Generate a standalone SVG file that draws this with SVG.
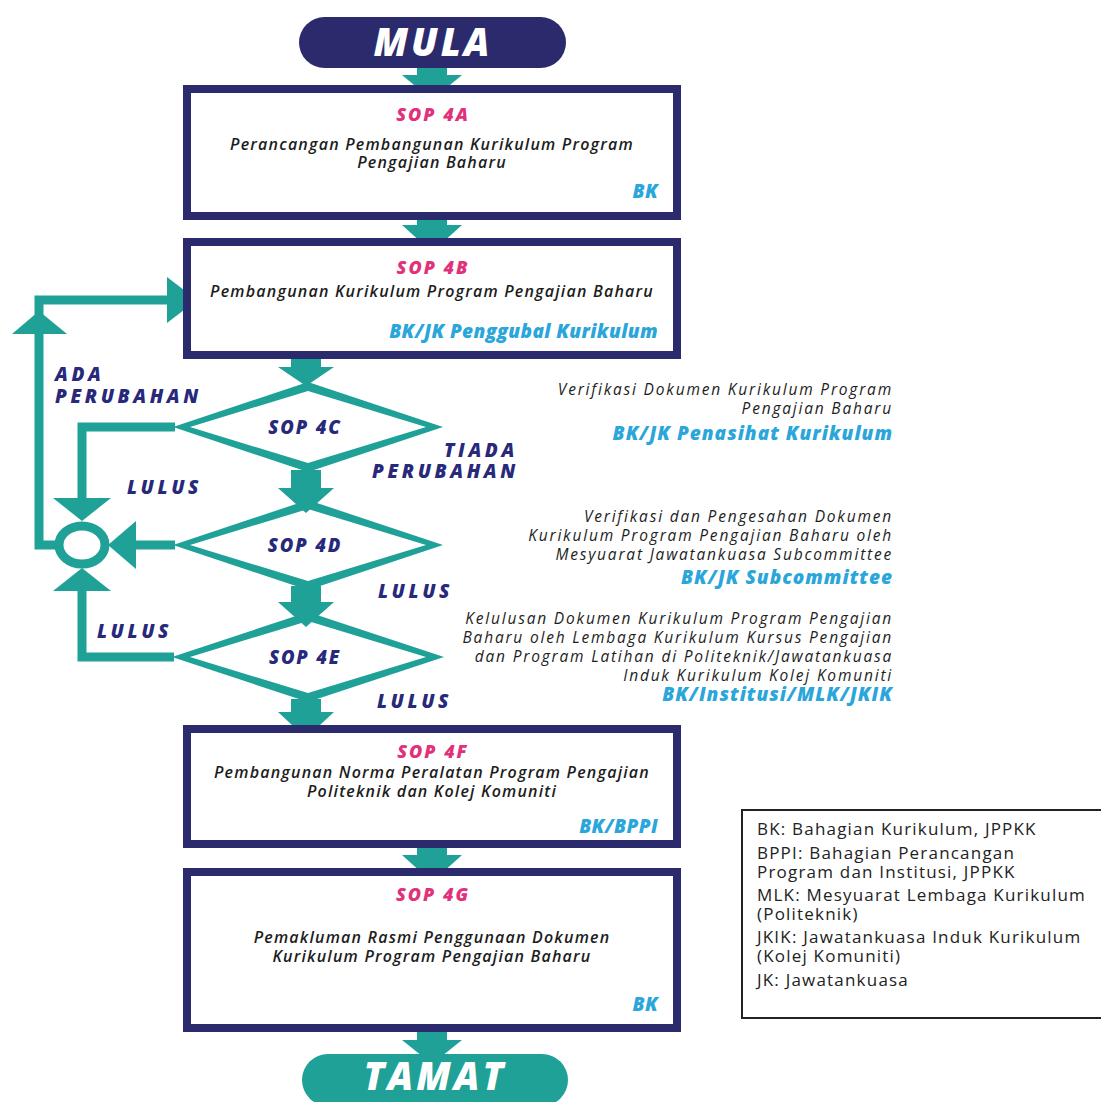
<svg xmlns="http://www.w3.org/2000/svg" width="1101" height="1102" viewBox="0 0 1101 1102">
<style>
.box{fill:#fff;stroke:#2b2a6c;stroke-width:8}
.teal{fill:#1fa197}
.line{fill:none;stroke:#1fa197;stroke-width:9;stroke-linejoin:miter}
.ctr{font-family:"Open Sans","DejaVu Sans",sans-serif;font-style:italic;text-anchor:middle}
.sop{font-weight:800;font-size:18px;fill:#e0317a;letter-spacing:2px}
.desc{font-weight:600;font-size:16px;fill:#1d1d1d;letter-spacing:1.2px}
.who{font-family:"Open Sans","DejaVu Sans",sans-serif;font-style:italic;font-weight:800;font-size:19px;fill:#2aa6da;text-anchor:end;letter-spacing:0.4px}
.sidet{font-family:"Open Sans","DejaVu Sans",sans-serif;font-style:italic;text-anchor:end}
.side{font-weight:400;font-size:15.5px;fill:#1d1d1d;letter-spacing:1.8px}
.whos{font-weight:800;font-size:19px;fill:#2aa6da;letter-spacing:1px}
.lbl{font-family:"Open Sans","DejaVu Sans",sans-serif;font-style:italic;font-weight:800;font-size:19px;fill:#28297a;letter-spacing:3.6px}
.dlbl{font-family:"Open Sans","DejaVu Sans",sans-serif;font-style:italic;font-weight:800;font-size:18.5px;fill:#28297a;text-anchor:middle;letter-spacing:1.8px}
.term{font-family:"Open Sans","DejaVu Sans",sans-serif;font-style:italic;font-weight:800;font-size:38px;fill:#fff;text-anchor:middle;letter-spacing:3px}
.leg{font-family:"Open Sans","DejaVu Sans",sans-serif;font-size:17px;fill:#222;letter-spacing:1.2px}
</style>
<rect width="1101" height="1102" fill="#fff"/>

<g id="connectors">
<path class="teal" d="M417,64 H447 V75 H462 L432,100 L402,75 H417 Z"/>
<path class="teal" d="M417,216 H447 V225 H462 L432,252 L402,225 H417 Z"/>
<path class="teal" d="M291,356 H321 V367 H334 L306,386 L278,367 H291 Z"/>
<path class="teal" d="M291,470 H321 V488 H334 L306,513 L278,488 H291 Z"/>
<path class="teal" d="M291,586 H321 V602 H334 L306,627 L278,602 H291 Z"/>
<path class="teal" d="M291,699 H321 V712 H334 L306,738 L278,712 H291 Z"/>
<path class="teal" d="M417,845 H447 V855 H462 L432,882 L402,855 H417 Z"/>
<path class="teal" d="M417,1029 H447 V1040 H462 L432,1064 L402,1040 H417 Z"/>
<polyline class="line" points="175,427 82,427 82,500"/>
<polyline class="line" points="175,545 133,545"/>
<polyline class="line" points="174,657 82,657 82,589"/>
<polyline class="line" points="60,545 39,545 39,300 170,300"/>
<polygon class="teal" points="53,498 111,498 82,521"/>
<polygon class="teal" points="136,521 136,569 108,545"/>
<polygon class="teal" points="53,591 111,591 82,568"/>
<polygon class="teal" points="12,334 67,334 39,311"/>
<polygon class="teal" points="167,277 167,323 197,300"/>
<ellipse cx="82" cy="545" rx="23" ry="19" fill="#fff" stroke="#1fa197" stroke-width="9"/>
</g>

<g id="mula">
<rect x="299" y="17" width="267" height="51" rx="25.5" fill="#2b2a6c"/>
<text class="term" x="433" y="56">MULA</text>
</g>

<g id="sop4a">
<rect class="box" x="187" y="89" width="490" height="127"/>
<text class="ctr"><tspan class="sop" x="433" y="121">SOP 4A</tspan><tspan class="desc" x="432" y="150">Perancangan Pembangunan Kurikulum Program</tspan><tspan class="desc" x="432" y="168">Pengajian Baharu</tspan></text>
<text class="who" x="658" y="198">BK</text>
</g>

<g id="sop4b">
<rect class="box" x="187" y="242" width="490" height="113"/>
<text class="ctr"><tspan class="sop" x="433" y="274">SOP 4B</tspan><tspan class="desc" x="432" y="297">Pembangunan Kurikulum Program Pengajian Baharu</tspan></text>
<text class="who" x="658" y="338">BK/JK Penggubal Kurikulum</text>
</g>

<g id="sop4c">
<path class="teal" fill-rule="evenodd" d="M173,427 L308,382 L443,427 L308,472 Z M190,427 L308,391 L426,427 L308,463 Z"/>
<text class="dlbl" x="305" y="434">SOP 4C</text>
<text class="sidet"><tspan class="side" x="893" y="395">Verifikasi Dokumen Kurikulum Program</tspan><tspan class="side" x="893" y="414">Pengajian Baharu</tspan><tspan class="whos" x="893" y="440">BK/JK Penasihat Kurikulum</tspan></text>
</g>

<g id="sop4d">
<path class="teal" fill-rule="evenodd" d="M173,545 L308,500 L443,545 L308,590 Z M190,545 L308,509 L426,545 L308,581 Z"/>
<text class="dlbl" x="305" y="552">SOP 4D</text>
<text class="sidet"><tspan class="side" x="893" y="522">Verifikasi dan Pengesahan Dokumen</tspan><tspan class="side" x="893" y="541">Kurikulum Program Pengajian Baharu oleh</tspan><tspan class="side" x="893" y="560">Mesyuarat Jawatankuasa Subcommittee</tspan><tspan class="whos" x="893" y="584">BK/JK Subcommittee</tspan></text>
</g>

<g id="sop4e">
<path class="teal" fill-rule="evenodd" d="M172,657 L308,612 L444,657 L308,702 Z M190,657 L308,621 L426,657 L308,693 Z"/>
<text class="dlbl" x="305" y="664">SOP 4E</text>
<text class="sidet"><tspan class="side" x="893" y="624">Kelulusan Dokumen Kurikulum Program Pengajian</tspan><tspan class="side" x="893" y="643">Baharu oleh Lembaga Kurikulum Kursus Pengajian</tspan><tspan class="side" x="893" y="662">dan Program Latihan di Politeknik/Jawatankuasa</tspan><tspan class="side" x="893" y="681">Induk Kurikulum Kolej Komuniti</tspan><tspan class="whos" x="893" y="701">BK/Institusi/MLK/JKIK</tspan></text>
</g>

<g id="labels">
<text class="lbl"><tspan x="55" y="381">ADA</tspan><tspan x="55" y="403">PERUBAHAN</tspan></text>
<text class="lbl"><tspan x="444" y="457">TIADA</tspan><tspan x="372" y="478">PERUBAHAN</tspan></text>
<text class="lbl" x="127" y="494">LULUS</text>
<text class="lbl" x="378" y="598">LULUS</text>
<text class="lbl" x="97" y="638">LULUS</text>
<text class="lbl" x="377" y="708">LULUS</text>
</g>

<g id="sop4f">
<rect class="box" x="187" y="729" width="490" height="115"/>
<text class="ctr"><tspan class="sop" x="433" y="758">SOP 4F</tspan><tspan class="desc" x="432" y="778">Pembangunan Norma Peralatan Program Pengajian</tspan><tspan class="desc" x="432" y="797">Politeknik dan Kolej Komuniti</tspan></text>
<text class="who" x="658" y="833">BK/BPPI</text>
</g>

<g id="sop4g">
<rect class="box" x="187" y="872" width="490" height="156"/>
<text class="ctr"><tspan class="sop" x="433" y="901">SOP 4G</tspan><tspan class="desc" x="432" y="943">Pemakluman Rasmi Penggunaan Dokumen</tspan><tspan class="desc" x="432" y="962">Kurikulum Program Pengajian Baharu</tspan></text>
<text class="who" x="658" y="1011">BK</text>
</g>

<g id="tamat">
<rect x="302" y="1054" width="266" height="52" rx="26" fill="#1fa197"/>
<text class="term" x="435" y="1090">TAMAT</text>
</g>

<g id="legend">
<rect x="742" y="810" width="370" height="208" fill="#fff" stroke="#222" stroke-width="2"/>
<text class="leg"><tspan x="757" y="835">BK: Bahagian Kurikulum, JPPKK</tspan><tspan x="757" y="859">BPPI: Bahagian Perancangan</tspan><tspan x="757" y="878">Program dan Institusi, JPPKK</tspan><tspan x="757" y="901">MLK: Mesyuarat Lembaga Kurikulum</tspan><tspan x="757" y="920">(Politeknik)</tspan><tspan x="757" y="943">JKIK: Jawatankuasa Induk Kurikulum</tspan><tspan x="757" y="962">(Kolej Komuniti)</tspan><tspan x="757" y="986">JK: Jawatankuasa</tspan></text>
</g>
</svg>
